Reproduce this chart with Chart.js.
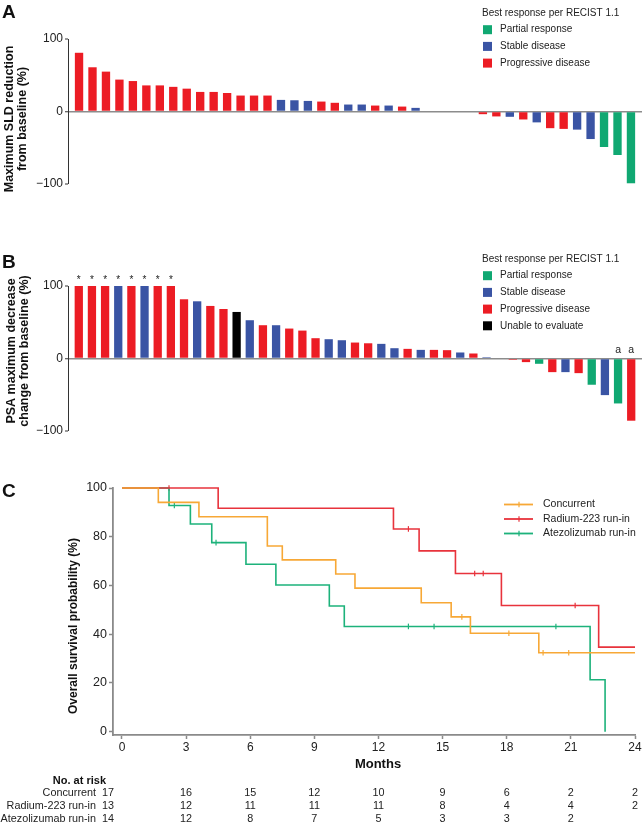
<!DOCTYPE html>
<html>
<head>
<meta charset="utf-8">
<script src="https://cdn.jsdelivr.net/npm/chart.js@4"></script>
<style>
  html, body { margin:0; padding:0; background:#fff; }
  body { width:644px; height:836px; position:relative; overflow:hidden; }
  canvas { position:absolute; left:0; top:0; }
</style>
</head>
<body>
<canvas id="chartA" width="644" height="836"></canvas>
<canvas id="chartB" width="644" height="836"></canvas>
<canvas id="chartC" width="644" height="836"></canvas>
<script>
// ---------------- DATA ----------------
// Panel A: maximum SLD reduction from baseline (%)
const sldValues = [81,61,55,44,42,36,36,34,31.5,27,27,25.5,22,22,22,16,15.5,14.6,13.7,12,9.6,9.6,8.2,8.2,6.8,5,0,0,0,0,-3.7,-6.8,-7.3,-11,-15,-23,-24,-25,-38,-49,-60,-99];
const sldResponse = ['PD','PD','PD','PD','PD','PD','PD','PD','PD','PD','PD','PD','PD','PD','PD','SD','SD','SD','PD','PD','SD','SD','PD','SD','PD','SD','SD','SD','SD','SD','PD','PD','SD','PD','SD','PD','PD','SD','SD','PR','PR','PR'];
const sldTicks = [-100, 0, 100];
const sldTitle = ['Maximum SLD reduction', 'from baseline (%)'];

// Panel B: PSA maximum decrease change from baseline (%)
const psaValues = [100,100,100,100,100,100,100,100,81.7,78.9,72.5,68.3,64.2,52.8,45.9,45.9,41.3,38.5,28,26.6,25.2,22,21,20.2,14.2,13.3,11.9,11.9,11.5,8.3,6.9,1.8,0,-1.8,-5,-7.3,-18.8,-18.8,-20.2,-36.2,-50.5,-62,-85.8];
const psaResponse = ['PD','PD','PD','SD','PD','SD','PD','PD','PD','SD','PD','PD','NE','SD','PD','SD','PD','PD','PD','SD','SD','PD','PD','SD','SD','PD','SD','PD','PD','SD','PD','SD','SD','PD','PD','PR','PD','SD','PD','PR','SD','PR','PD'];
const psaMarks = ['*','*','*','*','*','*','*','*','','','','','','','','','','','','','','','','','','','','','','','','','','','','','','','','','','a','a'];
const psaTicks = [-100, 0, 100];
const psaTitle = ['PSA maximum decrease', 'change from baseline (%)'];

// Legends
const legendTitle = 'Best response per RECIST 1.1';
const legendCodesA = ['PR','SD','PD'];
const legendCodesB = ['PR','SD','PD','NE'];
const responseNames = {PR:'Partial response', SD:'Stable disease', PD:'Progressive disease', NE:'Unable to evaluate'};

// Panel C: Kaplan-Meier overall survival
const kmGroups = ['Concurrent','Radium-223 run-in','Atezolizumab run-in'];
const concTimes = [0,1.7,3.6,6.8,7.5,10.0,10.9,14.0,15.4,16.3,19.5,24];
const concSurv  = [100,94.1,88.2,76.2,70.5,64.7,58.9,52.9,47.1,40.4,32.4,32.4];
const concCens  = [15.9,18.1,19.7,20.9];
const radTimes  = [0,4.5,12.7,13.9,15.6,17.75,22.3,24];
const radSurv   = [100,91.7,83.2,74.2,64.9,51.8,34.7,34.7];
const radCens   = [2.2,13.4,16.5,16.9,21.2];
const atezTimes = [0,2.2,3.2,4.2,5.8,7.2,9.7,10.4,21.9,22.6];
const atezSurv  = [100,92.8,85.2,77.6,68.7,60.2,51.6,43.2,21.3,0];
const atezCens  = [2.45,4.4,13.4,14.6,20.3];
const monthTicks = [0,3,6,9,12,15,18,21,24];
const survTicks = [0,20,40,60,80,100];
const riskCounts = [
  [17,16,15,12,10,9,6,2,2],
  [13,12,11,11,11,8,4,4,2],
  [14,12,8,7,5,3,3,2,null]
];

// ---------------- STYLE ----------------
const FONT = '"Liberation Sans", Arial, Helvetica, sans-serif';
Chart.defaults.font.family = FONT;
Chart.defaults.color = '#222';
Chart.defaults.animation = false;
const respColors = {PR:'#10a872', SD:'#3a54a4', PD:'#ec1c24', NE:'#000000'};
const kmColors = ['#f7a836','#e8333c','#1db27b'];
const axisDark = '#333333';
const axisGray = '#8a8a8a';

function txt(ctx, s, x, y, font, align, base, color) {
  ctx.save();
  ctx.font = font; ctx.textAlign = align || 'left'; ctx.textBaseline = base || 'middle';
  ctx.fillStyle = color || '#222';
  ctx.fillText(s, x, y);
  ctx.restore();
}
function vtxt(ctx, s, x, y, font, color) {
  ctx.save();
  ctx.translate(x, y); ctx.rotate(-Math.PI/2);
  ctx.font = font; ctx.textAlign = 'center'; ctx.textBaseline = 'middle';
  ctx.fillStyle = color || '#111';
  ctx.fillText(s, 0, 0);
  ctx.restore();
}
function drawLegend(ctx, codes, x, y) {
  txt(ctx, legendTitle, x, y, '10px ' + FONT, 'left', 'middle', '#222');
  codes.forEach((c, k) => {
    const yy = y + 16.7 * (k + 1);
    ctx.save(); ctx.fillStyle = respColors[c]; ctx.fillRect(x + 1, yy - 4.5, 9, 9); ctx.restore();
    txt(ctx, responseNames[c], x + 18, yy, '10px ' + FONT, 'left', 'middle', '#222');
  });
}
function levelAt(times, surv, t) {
  let v = surv[0];
  for (let i = 0; i < times.length; i++) { if (times[i] <= t) v = surv[i]; }
  return v;
}
const fmtTick = v => (v < 0 ? '\u2212' + Math.abs(v) : String(v));

function waterfallScales(ticks, n) {
  return {
    x: { type:'linear', display:false, offset:false, min:-0.82, max:n - 1 + 0.82 },
    y: {
      min:-100, max:100,
      afterBuildTicks: s => { s.ticks = ticks.map(v => ({value:v})); },
      afterFit: s => { s.width = 68; },
      ticks: { font:{size:12}, color:'#222', padding:2, callback: v => fmtTick(v) },
      grid: {
        drawOnChartArea:true, drawTicks:true, tickLength:3, tickWidth:1, tickColor:axisDark,
        color: c => (c.tick && c.tick.value === 0) ? '#8c8c8c' : 'rgba(0,0,0,0)',
        lineWidth: c => (c.tick && c.tick.value === 0) ? 1.5 : 0
      },
      border: { display:true, color:axisDark, width:1 }
    }
  };
}

// ---------------- PANEL A ----------------
new Chart(document.getElementById('chartA'), {
  type:'bar',
  data: { datasets: [{
    data: sldValues.map((v, i) => ({x:i, y:v})),
    backgroundColor: sldResponse.map(r => respColors[r]),
    barPercentage:0.62, categoryPercentage:1, borderWidth:0
  }]},
  options: {
    responsive:false, devicePixelRatio:1,
    layout: { padding: { top:39, bottom:652, left:0, right:2 } },
    plugins: { legend:{display:false}, tooltip:{enabled:false} },
    scales: waterfallScales(sldTicks, sldValues.length)
  },
  plugins: [{ id:'decorA', afterDraw(chart) {
    const ctx = chart.ctx;
    txt(ctx, 'A', 2, 18, 'bold 19px ' + FONT, 'left', 'alphabetic', '#111');
    vtxt(ctx, sldTitle[0], 10, 119, 'bold 12.5px ' + FONT);
    vtxt(ctx, sldTitle[1], 22.5, 119, 'bold 12.5px ' + FONT);
    drawLegend(ctx, legendCodesA, 482, 13);
  }}]
});

// ---------------- PANEL B ----------------
new Chart(document.getElementById('chartB'), {
  type:'bar',
  data: { datasets: [{
    data: psaValues.map((v, i) => ({x:i, y:v})),
    backgroundColor: psaResponse.map(r => respColors[r]),
    barPercentage:0.63, categoryPercentage:1, borderWidth:0
  }]},
  options: {
    responsive:false, devicePixelRatio:1,
    layout: { padding: { top:286, bottom:405, left:0, right:2 } },
    plugins: { legend:{display:false}, tooltip:{enabled:false} },
    scales: waterfallScales(psaTicks, psaValues.length)
  },
  plugins: [{ id:'decorB', afterDraw(chart) {
    const ctx = chart.ctx;
    txt(ctx, 'B', 2, 268, 'bold 19px ' + FONT, 'left', 'alphabetic', '#111');
    vtxt(ctx, psaTitle[0], 11.5, 351, 'bold 12.5px ' + FONT);
    vtxt(ctx, psaTitle[1], 24.5, 351, 'bold 12.5px ' + FONT);
    drawLegend(ctx, legendCodesB, 482, 259);
    const meta = chart.getDatasetMeta(0);
    psaMarks.forEach((m, i) => {
      if (!m) return;
      const el = meta.data[i];
      if (m === '*') txt(ctx, m, el.x, el.y - 3.5, '10px ' + FONT, 'center', 'alphabetic', '#222');
      else txt(ctx, m, el.x, Math.min(el.y, el.base) - 6, '10.5px ' + FONT, 'center', 'alphabetic', '#222');
    });
  }}]
});

// ---------------- PANEL C ----------------
const kmSets = [[concTimes, concSurv, concCens],[radTimes, radSurv, radCens],[atezTimes, atezSurv, atezCens]];
const kmDatasets = [];
kmSets.forEach((g, k) => {
  kmDatasets.push({
    type:'line', data: g[0].map((t, i) => ({x:t, y:g[1][i]})),
    stepped:true, borderColor:kmColors[k], borderWidth:1.6, pointRadius:0, fill:false, clip:4
  });
});
kmSets.forEach((g, k) => {
  kmDatasets.push({
    type:'scatter', data: g[2].map(t => ({x:t, y:levelAt(g[0], g[1], t)})),
    showLine:false, pointStyle:'line', rotation:90, pointRadius:2.8,
    borderColor:kmColors[k], pointBorderColor:kmColors[k], pointBorderWidth:1.2, clip:4
  });
});

new Chart(document.getElementById('chartC'), {
  type:'line',
  data: { datasets: kmDatasets },
  options: {
    responsive:false, devicePixelRatio:1,
    layout: { padding: { top:488, bottom:81, left:0, right:9 } },
    plugins: { legend:{display:false}, tooltip:{enabled:false} },
    scales: {
      x: {
        type:'linear', min:-0.42, max:24,
        afterBuildTicks: s => { s.ticks = monthTicks.map(v => ({value:v})); },
        afterFit: s => { s.height = 20; },
        ticks: { font:{size:12}, color:'#222', padding:1, maxRotation:0, autoSkip:false },
        grid: { drawOnChartArea:false, drawTicks:true, tickLength:4, tickWidth:1.5, tickColor:axisGray },
        border: { display:true, color:axisGray, width:1.8 }
      },
      y: {
        type:'linear', min:-1.35, max:100,
        afterBuildTicks: s => { s.ticks = survTicks.map(v => ({value:v})); },
        afterFit: s => { s.width = 113; },
        ticks: { font:{size:12.5}, color:'#222', padding:2 },
        grid: { drawOnChartArea:false, drawTicks:true, tickLength:4, tickWidth:1.5, tickColor:axisGray },
        border: { display:true, color:axisGray, width:1.8 }
      }
    }
  },
  plugins: [{ id:'decorC', afterDraw(chart) {
    const ctx = chart.ctx;
    const xs = chart.scales.x;
    txt(ctx, 'C', 2, 497, 'bold 19px ' + FONT, 'left', 'alphabetic', '#111');
    vtxt(ctx, 'Overall survival probability (%)', 74, 626, 'bold 12px ' + FONT);
    txt(ctx, 'Months', 378, 764, 'bold 13px ' + FONT, 'center', 'middle', '#111');
    // legend
    kmGroups.forEach((name, k) => {
      const yy = 504.5 + 14.5 * k;
      ctx.save();
      ctx.strokeStyle = kmColors[k]; ctx.lineWidth = 1.8;
      ctx.beginPath(); ctx.moveTo(504, yy); ctx.lineTo(533, yy); ctx.stroke();
      ctx.lineWidth = 1.2;
      ctx.beginPath(); ctx.moveTo(519, yy - 2.8); ctx.lineTo(519, yy + 2.8); ctx.stroke();
      ctx.restore();
      txt(ctx, name, 543, yy, '10.5px ' + FONT, 'left', 'middle', '#222');
    });
    // risk table
    txt(ctx, 'No. at risk', 106, 781, 'bold 11px ' + FONT, 'right', 'middle', '#111');
    kmGroups.forEach((name, k) => {
      const yy = 793.5 + 12.8 * k;
      txt(ctx, name, 96, yy, '10.8px ' + FONT, 'right', 'middle', '#222');
      riskCounts[k].forEach((n, j) => {
        if (n === null) return;
        if (j === 0) txt(ctx, String(n), 102, yy, '10.8px ' + FONT, 'left', 'middle', '#222');
        else txt(ctx, String(n), xs.getPixelForValue(monthTicks[j]), yy, '10.8px ' + FONT, 'center', 'middle', '#222');
      });
    });
  }}]
});
</script>
</body>
</html>
